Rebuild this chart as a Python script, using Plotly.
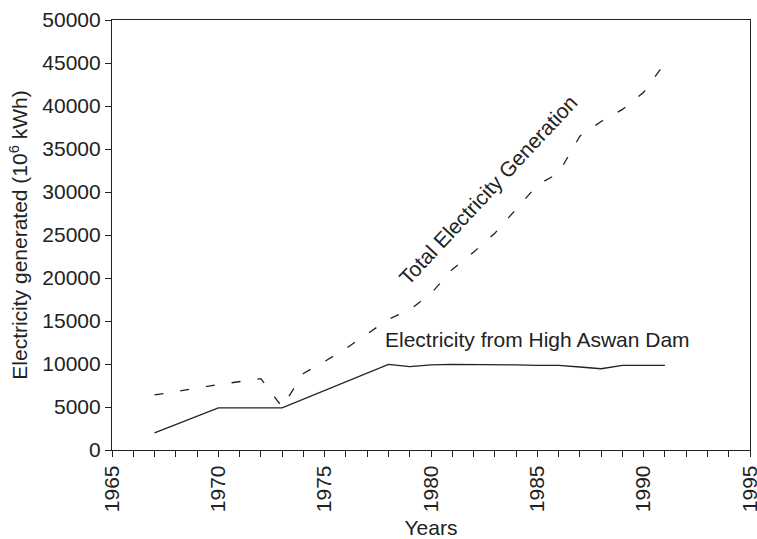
import plotly.graph_objects as go

total_years = [1967, 1970, 1972, 1973, 1974, 1975, 1976, 1977, 1978, 1979, 1980, 1981, 1982,
               1983, 1984, 1985, 1986, 1987, 1988, 1989, 1990, 1991]
total_gen = [6400, 7600, 8300, 5000, 8900, 10300, 11800, 13500, 15200, 16300, 18200, 21000,
             23000, 25200, 28000, 30800, 32200, 36500, 38200, 39600, 41600, 45000]

dam_years = [1967, 1970, 1973, 1978, 1979, 1980, 1981, 1982, 1983, 1984, 1985, 1986, 1987,
             1988, 1989, 1990, 1991]
dam_gen = [2000, 4900, 4900, 9950, 9700, 9900, 9950, 9950, 9900, 9900, 9850, 9850, 9650,
           9450, 9850, 9850, 9850]

FONT = "Liberation Sans, Arial, Helvetica, sans-serif"
INK = "#222222"
FS = 21

fig = go.Figure()
fig.add_trace(go.Scatter(x=total_years, y=total_gen, mode="lines",
                         line=dict(color=INK, width=1.3, dash="9px,17px"),
                         showlegend=False))
fig.add_trace(go.Scatter(x=dam_years, y=dam_gen, mode="lines",
                         line=dict(color=INK, width=1.3), showlegend=False))

fig.add_annotation(x=1985.0, y=12800, text="Electricity from High Aswan Dam",
                   showarrow=False, xanchor="center", yanchor="middle",
                   font=dict(family=FONT, size=FS, color=INK))
fig.add_annotation(x=1982.7, y=30300, text="Total Electricity Generation",
                   showarrow=False, textangle=-47,
                   font=dict(family=FONT, size=FS, color=INK))

fig.update_xaxes(range=[1965, 1995], dtick=5, tick0=1965, ticks="outside", ticklen=6,
                 tickangle=-90, showgrid=False, zeroline=False, automargin=False,
                 ticklabeloverflow="allow",
                 showline=True, linecolor=INK, linewidth=1.2, mirror=True,
                 tickcolor=INK, tickfont=dict(family=FONT, size=FS, color=INK),
                 minor=dict(dtick=1, ticks="outside", ticklen=6, tickcolor=INK, showgrid=False),
                 title=dict(text="Years", font=dict(family=FONT, size=FS, color=INK), standoff=10))
fig.update_yaxes(range=[0, 50000], dtick=5000, tickformat="d", ticks="outside", ticklen=6,
                 showgrid=False, zeroline=False, automargin=False,
                 showline=True, linecolor=INK, linewidth=1.2, mirror=True,
                 tickcolor=INK, tickfont=dict(family=FONT, size=FS, color=INK),
                 title=dict(text="Electricity generated (10<sup>6</sup> kWh)",
                            font=dict(family=FONT, size=FS, color=INK), standoff=8))

fig.update_layout(width=757, height=539, plot_bgcolor="white", paper_bgcolor="white",
                  margin=dict(l=112, r=7, t=20, b=89), font=dict(family=FONT))

fig.write_html("out.html", config={"displayModeBar": False},
               post_script="document.body.style.margin='0';")
